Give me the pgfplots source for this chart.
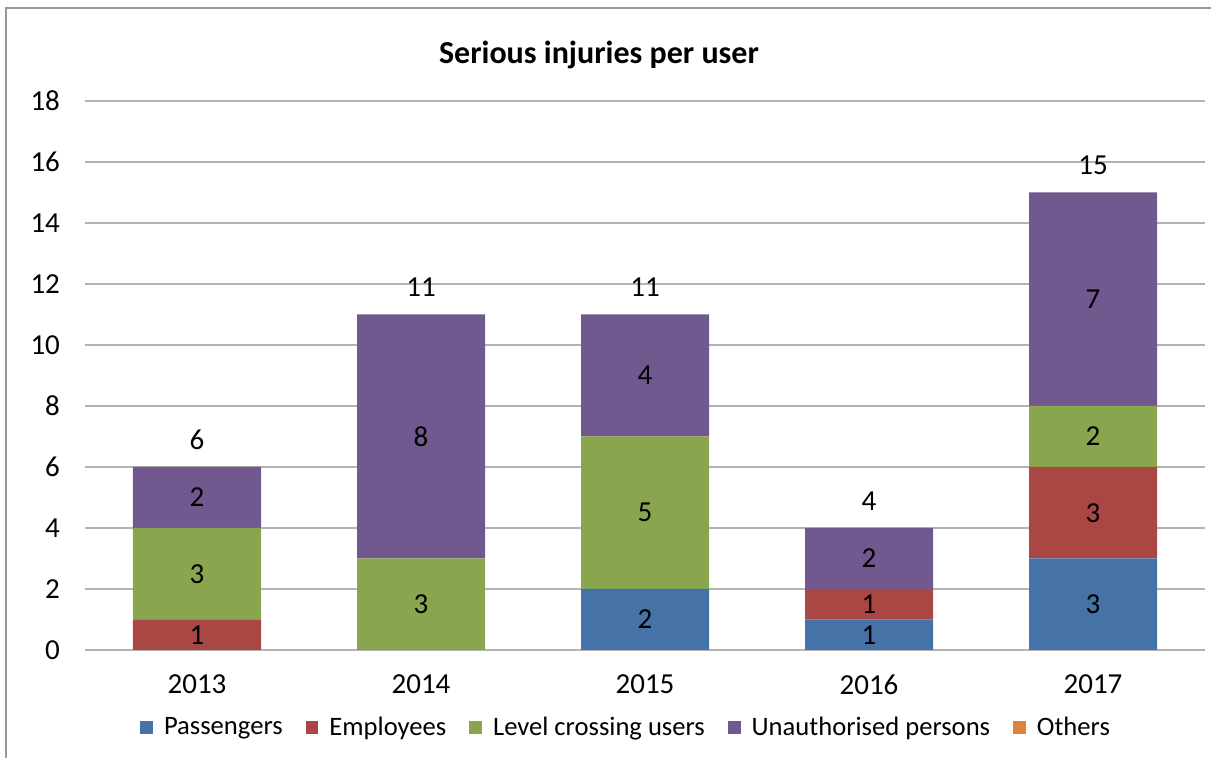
\documentclass[border=0pt]{standalone}
\usepackage{pgfplots}
\pgfplotsset{compat=1.18}
\usepackage{pgfplotstable}
\usepackage{fontspec}
\setmainfont{Carlito}
\definecolor{cP}{HTML}{4572A7}
\definecolor{cE}{HTML}{AA4643}
\definecolor{cL}{HTML}{89A54E}
\definecolor{cU}{HTML}{71588F}
\definecolor{cO}{HTML}{DB843D}
\definecolor{gridc}{HTML}{B3B3B3}
\pgfplotstableread{
x P E L U O T
0 0 1 3 2 0 6
1 0 0 3 8 0 11
2 2 0 5 4 0 11
3 1 1 0 2 0 4
4 3 3 2 7 0 15
}\datatable
\pgfplotsset{
  common/.style={
    at={(42.5pt,-325pt)}, anchor=south west,
    scale only axis, width=560pt, height=274.5pt,
    xmin=-0.5, xmax=4.5, ymin=0, ymax=18,
    /pgf/number format/assume math mode=true,
  },
  lbl/.style={draw=none, mark=none, point meta=explicit,
    nodes near coords={\pgfmathfloatifflags{\pgfplotspointmeta}{0}{}{\pgfmathprintnumber{\pgfplotspointmeta}}},
    every node near coord/.append style={font=\fontsize{14.5}{17}\selectfont, anchor=center, inner sep=0pt}},
}
\begin{document}
\begin{tikzpicture}
\useasboundingbox (0,0) rectangle (605.5pt,-379pt);
\draw[color=gray!80, line width=0.6pt] (3pt,-379pt) -- (3pt,-4pt) -- (606pt,-4pt);
\node[font=\fontsize{16}{19}\selectfont\bfseries] at (299.5pt,-27.5pt) {Serious injuries per user};
\begin{axis}[
  common,
  ybar stacked, bar width=64pt,
  xtick=data, xticklabels={2013,2014,2015,2016,2017},
  ytick={0,2,...,18},
  axis line style={draw=none},
  axis x line*=bottom,
  x axis line style={draw=gridc, line width=0.7pt},
  major tick length=0pt,
  ymajorgrids, grid style={gridc, line width=0.7pt},
  tick label style={font=\fontsize{14.5}{17}\selectfont},
  yticklabel style={xshift=-9pt},
  xticklabel style={yshift=-9pt},
  legend style={at={(0.484,-0.141)}, anchor=center, draw=none, fill=none,
    legend columns=5, font=\fontsize{13.3}{16}\selectfont,
    /tikz/every odd column/.append style={column sep=3.5pt},
    /tikz/every even column/.append style={column sep=9.5pt}},
  legend cell align=left,
  legend image code/.code={\fill[#1] (0pt,-3.2pt) rectangle (6.4pt,3.2pt);},
]
\addplot[fill=cP, draw=none] table[x=x, y=P] {\datatable};
\addplot[fill=cE, draw=none] table[x=x, y=E] {\datatable};
\addplot[fill=cL, draw=none] table[x=x, y=L] {\datatable};
\addplot[fill=cU, draw=none] table[x=x, y=U] {\datatable};
\addplot[fill=cO, draw=none] table[x=x, y=O] {\datatable};
\legend{Passengers, Employees, Level crossing users, Unauthorised persons, Others}
\end{axis}
\begin{axis}[common, hide axis, clip=false]
\addplot[lbl] table[x=x, y expr=\thisrow{P}/2, meta=P] {\datatable};
\addplot[lbl] table[x=x, y expr=\thisrow{P}+\thisrow{E}/2, meta=E] {\datatable};
\addplot[lbl] table[x=x, y expr=\thisrow{P}+\thisrow{E}+\thisrow{L}/2, meta=L] {\datatable};
\addplot[lbl] table[x=x, y expr=\thisrow{P}+\thisrow{E}+\thisrow{L}+\thisrow{U}/2, meta=U] {\datatable};
\addplot[lbl, every node near coord/.append style={anchor=center, yshift=13.5pt}] table[x=x, y=T, meta=T] {\datatable};
\end{axis}
\end{tikzpicture}
\end{document}
